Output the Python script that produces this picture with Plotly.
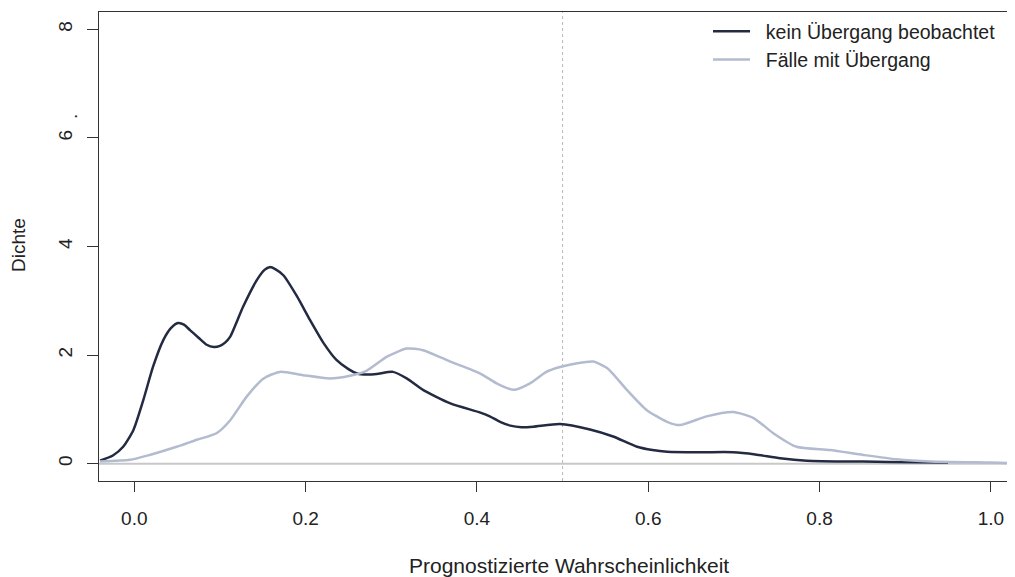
import plotly.graph_objects as go

# ---- data ----
x_kein = [-0.040, -0.025, -0.013, -0.001, 0.0105, 0.022, 0.034, 0.043, 0.051, 0.058, 0.065, 0.075,
          0.0845, 0.093, 0.100, 0.106, 0.112, 0.127, 0.143, 0.152, 0.158, 0.165, 0.174, 0.190, 0.205,
          0.221, 0.236, 0.250, 0.260, 0.272, 0.283, 0.302, 0.318, 0.337, 0.369, 0.404, 0.415,
          0.427, 0.439, 0.452, 0.466, 0.497, 0.532, 0.559, 0.587, 0.605, 0.622, 0.660, 0.699, 0.725,
          0.754, 0.785, 0.851, 0.913, 0.950]
y_kein = [0.055, 0.15, 0.31, 0.62, 1.17, 1.79, 2.28, 2.50, 2.59, 2.56, 2.46, 2.32,
          2.19, 2.15, 2.17, 2.23, 2.34, 2.89, 3.38, 3.57, 3.62, 3.58, 3.47, 3.08, 2.65,
          2.22, 1.91, 1.74, 1.66, 1.64, 1.65, 1.69, 1.57, 1.36, 1.11, 0.94, 0.87,
          0.77, 0.70, 0.67, 0.68, 0.73, 0.63, 0.50, 0.31, 0.25, 0.22, 0.21, 0.21, 0.17,
          0.10, 0.055, 0.037, 0.026, 0.02]

x_faelle = [-0.040, -0.005, 0.018, 0.0495, 0.073, 0.096, 0.112, 0.131, 0.151, 0.170, 0.197, 0.228,
            0.252, 0.271, 0.295, 0.318, 0.337, 0.369, 0.404, 0.423, 0.443, 0.462, 0.481, 0.497,
            0.517, 0.536, 0.552, 0.575, 0.598, 0.622, 0.637, 0.668, 0.699, 0.723, 0.746, 0.773,
            0.812, 0.851, 0.890, 0.929, 0.999, 1.027]
y_faelle = [0.04, 0.07, 0.16, 0.31, 0.44, 0.56, 0.80, 1.23, 1.57, 1.69, 1.63, 1.57,
            1.62, 1.71, 1.97, 2.12, 2.09, 1.88, 1.66, 1.48, 1.36, 1.48, 1.69, 1.78,
            1.85, 1.88, 1.76, 1.36, 0.99, 0.77, 0.71, 0.87, 0.95, 0.84, 0.56, 0.31,
            0.25, 0.16, 0.08, 0.04, 0.02, 0.01]

series_names = ["kein Übergang beobachtet", "Fälle mit Übergang"]
x_ticks = [0.0, 0.2, 0.4, 0.6, 0.8, 1.0]
x_ticktext = ["0.0", "0.2", "0.4", "0.6", "0.8", "1.0"]
y_ticks = [0, 2, 4, 6, 8]
threshold = 0.5

FONT = "Liberation Sans, Arial, sans-serif"
DARK = "#232a42"
LIGHT = "#b3bbcf"
PAD = "\u00a0\u00a0"

# page is offset by the 8px body margin: figure coordinates = page - 8
W, H = 1007, 569
L, T, PW, PH = 91, 4, 915, 469


def px(xp):
    return (xp - 8 - L) / PW


def py(yp):
    return (T + PH - (yp - 8)) / PH


fig = go.Figure()
fig.add_trace(go.Scatter(x=x_kein, y=y_kein, mode="lines", name=PAD + series_names[0],
                         line=dict(color=DARK, width=2.5, shape="spline", smoothing=0.6)))
fig.add_trace(go.Scatter(x=x_faelle, y=y_faelle, mode="lines", name=PAD + series_names[1],
                         line=dict(color=LIGHT, width=2.5, shape="spline", smoothing=0.6)))

# zero reference line and threshold line
fig.add_shape(type="line", xref="paper", yref="y", x0=0, x1=1, y0=0, y1=0,
              line=dict(color="#c8c8c8", width=2), layer="below")
fig.add_shape(type="line", xref="x", yref="paper", x0=threshold, x1=threshold, y0=0, y1=1,
              line=dict(color="#b8b8b8", width=1, dash="dot"), layer="below")

fig.update_layout(
    width=W, height=H,
    margin=dict(l=L, r=W - L - PW, t=T, b=H - T - PH),
    paper_bgcolor="white", plot_bgcolor="white",
    font=dict(family=FONT, size=19, color="#222222"),
    showlegend=True,
    legend=dict(x=px(708), y=1.0, xanchor="left", yanchor="top",
                bgcolor="rgba(0,0,0,0)", font=dict(size=19.5, color="#222222"),
                tracegroupgap=0, itemwidth=37),
    xaxis=dict(range=[-0.0412, 1.027], tickvals=x_ticks, ticktext=x_ticktext,
               showgrid=False, zeroline=False, showline=True, mirror=True,
               linecolor="#333333", linewidth=1.3, ticks="outside", ticklen=10,
               tickcolor="#333333", tickwidth=1.3, ticklabelstandoff=10,
               tickfont=dict(size=19, color="#222222")),
    yaxis=dict(range=[-0.32, 8.32], tickvals=y_ticks, ticktext=[str(v) for v in y_ticks],
               showgrid=False, zeroline=False, showline=True,
               linecolor="#333333", linewidth=1.3, ticks="outside", ticklen=11,
               tickcolor="#333333", tickwidth=1.3, tickangle=-90, ticklabelstandoff=7,
               tickfont=dict(size=19, color="#222222")),
)

fig.add_annotation(text="Prognostizierte Wahrscheinlichkeit", xref="paper", yref="paper",
                   x=px(569), y=py(565), xanchor="center", yanchor="middle",
                   showarrow=False, font=dict(size=21, color="#222222"))
fig.add_annotation(text="Dichte", xref="paper", yref="paper", textangle=-90,
                   x=px(18), y=py(245), xanchor="center", yanchor="middle",
                   showarrow=False, font=dict(size=19, color="#222222"))
fig.add_annotation(text=".", xref="paper", yref="paper", textangle=-90,
                   x=px(71), y=py(117), xanchor="center", yanchor="middle",
                   showarrow=False, font=dict(size=19, color="#222222"))

fig.write_html("out.html")
